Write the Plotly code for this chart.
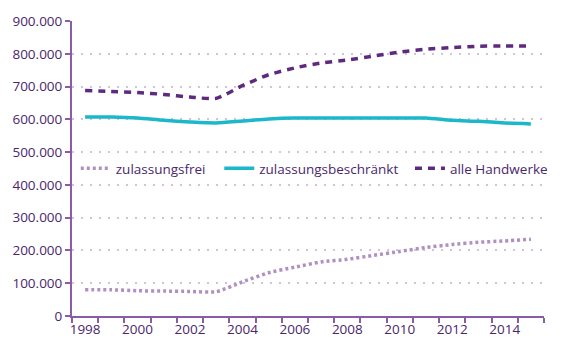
import plotly.graph_objects as go

years = list(range(1998, 2016))
zulassungsfrei = [80000, 80000, 77000, 76000, 75000, 74000, 104000, 132000, 149000, 165000,
                  173000, 185000, 197000, 209000, 218000, 225000, 229000, 234000]
zulassungsbeschraenkt = [607000, 607000, 604000, 597000, 592000, 589000, 595000, 601000, 604000, 604000,
                         604000, 604000, 604000, 604000, 597000, 594000, 589000, 586000]
alle_handwerke = [688000, 685000, 682000, 676000, 668000, 664000, 703000, 736000, 757000, 772000,
                  781000, 793000, 805000, 814000, 819000, 823000, 824000, 824000]

y_ticks = [0, 100000, 200000, 300000, 400000, 500000, 600000, 700000, 800000, 900000]
y_labels = ["0", "100.000", "200.000", "300.000", "400.000", "500.000", "600.000", "700.000", "800.000", "900.000"]
x_label_years = [1998, 2000, 2002, 2004, 2006, 2008, 2010, 2012, 2014]

text_col = "#4a276c"
axis_col = "#8a5ca6"
grid_col = "#cfc4d8"

fig = go.Figure()
fig.add_trace(go.Scatter(x=years, y=zulassungsfrei, name="zulassungsfrei", mode="lines", legend="legend",
                         line=dict(color="#b08fc3", width=3.5, dash="3px,3px", shape="spline", smoothing=0.6)))
fig.add_trace(go.Scatter(x=years, y=zulassungsbeschraenkt, name="zulassungsbeschränkt", mode="lines", legend="legend2",
                         line=dict(color="#1bb8cb", width=3.5, shape="spline", smoothing=0.6)))
fig.add_trace(go.Scatter(x=years, y=alle_handwerke, name="alle Handwerke", mode="lines", legend="legend3",
                         line=dict(color="#5e2a80", width=3.5, dash="7px,6px", shape="spline", smoothing=0.6)))

leg_common = dict(orientation="h", xanchor="left", y=0.5, yanchor="middle",
                  bgcolor="rgba(0,0,0,0)", font=dict(size=13.5, color=text_col))
fig.update_layout(
    width=565, height=354,
    margin=dict(l=64, r=13, t=13, b=38),
    plot_bgcolor="white", paper_bgcolor="white",
    font=dict(family="Open Sans", size=13.5, color=text_col),
    legend=dict(x=0.008, **leg_common),
    legend2=dict(x=0.312, **leg_common),
    legend3=dict(x=0.716, **leg_common),
    showlegend=True,
)
fig.update_xaxes(
    range=[1997.5, 2015.5],
    tickmode="array", tickvals=x_label_years, ticktext=[str(y) for y in x_label_years],
    ticks="", showgrid=False, zeroline=False,
    showline=True, linecolor=axis_col, linewidth=2,
    minor=dict(tickmode="array", tickvals=[y - 0.5 for y in years] + [2015.5],
               ticks="outside", ticklen=5, tickcolor=axis_col, tickwidth=2, showgrid=False),
)
fig.update_yaxes(
    range=[0, 900000],
    tickmode="array", tickvals=y_ticks, ticktext=y_labels,
    ticks="outside", ticklen=5, tickcolor=axis_col, tickwidth=2,
    showline=True, linecolor=axis_col, linewidth=2, zeroline=False,
    showgrid=True, gridcolor=grid_col, gridwidth=2, griddash="2px,7px",
)

fig.write_html("out.html")
